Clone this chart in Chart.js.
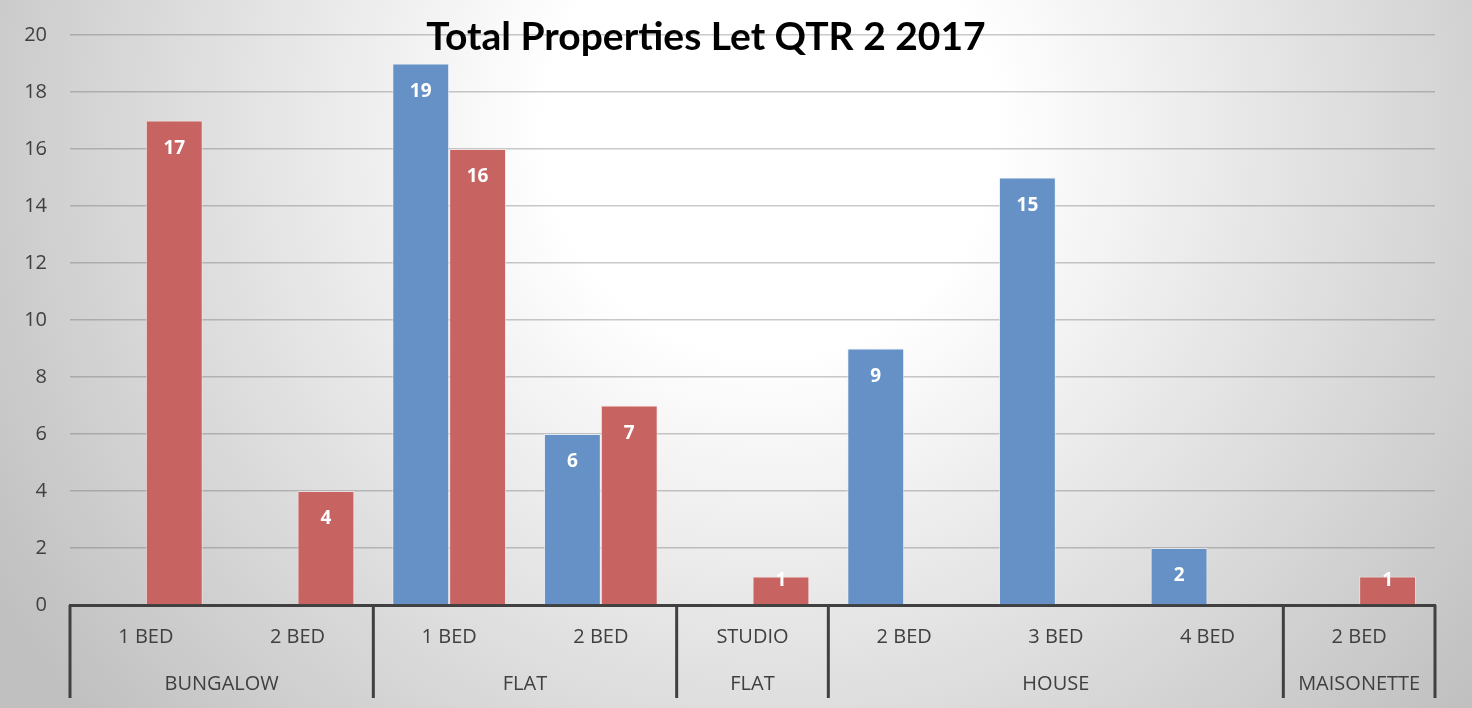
<!DOCTYPE html>
<html>
<head>
<meta charset="utf-8">
<script src="https://cdn.jsdelivr.net/npm/chart.js@4.4.0/dist/chart.umd.min.js"></script>
<style>
  html, body { margin: 0; padding: 0; background: #fff; }
</style>
</head>
<body>
<canvas id="lets-chart" width="1472" height="708"></canvas>
<script>
const categories = ["1 BED", "2 BED", "1 BED", "2 BED", "STUDIO", "2 BED", "3 BED", "4 BED", "2 BED"];
const groupNames = ["BUNGALOW", "FLAT", "FLAT", "HOUSE", "MAISONETTE"];
const groupSizes = [2, 2, 1, 3, 1];
const blueValues = [null, null, 19, 6, null, 9, 15, 2, null];
const redValues = [17, 4, 16, 7, 1, null, null, null, 1];
const yTicks = [0, 2, 4, 6, 8, 10, 12, 14, 16, 18, 20];
const chartTitle = "Total Properties Let QTR 2 2017";

const axisFont = "'Open Sans', sans-serif";

const backdrop = {
  id: "backdrop",
  beforeDraw: (chart) => {
    const ctx = chart.ctx;
    const g = ctx.createRadialGradient(770, 130, 0, 770, 130, 900);
    g.addColorStop(0, "#ffffff");
    g.addColorStop(0.25, "#ffffff");
    g.addColorStop(1, "#c0c0c0");
    ctx.save();
    ctx.fillStyle = g;
    ctx.fillRect(0, 0, chart.width, chart.height);
    ctx.restore();
  }
};

const extras = {
  id: "extras",
  afterDatasetsDraw: (chart) => {
    const ctx = chart.ctx;
    const y = chart.scales.y;
    const base = y.getPixelForValue(0);
    ctx.save();
    ctx.fillStyle = "#ffffff";
    ctx.font = "bold 19px " + axisFont;
    ctx.textAlign = "center";
    ctx.textBaseline = "middle";
    chart.data.datasets.forEach((ds, i) => {
      const meta = chart.getDatasetMeta(i);
      meta.data.forEach((bar, j) => {
        const v = ds.data[j];
        if (v == null) return;
        const ty = Math.min(bar.y + 28, base - 24);
        ctx.fillText(String(v), bar.x, ty);
      });
    });
    ctx.restore();
  },
  afterDraw: (chart) => {
    const ctx = chart.ctx;
    const x = chart.scales.x;
    const area = chart.chartArea;
    const half = (x.getPixelForValue(1) - x.getPixelForValue(0)) / 2;

    // group separators and labels
    ctx.save();
    ctx.strokeStyle = "#404040";
    ctx.lineWidth = 3;
    ctx.fillStyle = "#404040";
    ctx.font = "20px " + axisFont;
    ctx.textAlign = "center";
    ctx.textBaseline = "middle";
    let idx = 0;
    const edges = [x.getPixelForValue(0) - half];
    for (let g = 0; g < groupNames.length; g++) {
      const start = x.getPixelForValue(idx) - half;
      idx += groupSizes[g];
      const end = x.getPixelForValue(idx - 1) + half;
      edges.push(end);
      ctx.fillText(groupNames[g], (start + end) / 2, 684);
    }
    edges.forEach(px => {
      ctx.beginPath();
      ctx.moveTo(px, area.bottom);
      ctx.lineTo(px, 698);
      ctx.stroke();
    });

    // title
    ctx.fillStyle = "#000000";
    ctx.font = "bold 39px Lato, sans-serif";
    ctx.fillText(chartTitle, 706, 37);
    ctx.restore();
  }
};

new Chart("lets-chart", {
  type: "bar",
  data: {
    labels: categories,
    datasets: [
      {
        data: blueValues,
        backgroundColor: "rgb(101, 145, 198)",
        borderColor: "rgba(235, 240, 250, 0.7)",
        borderWidth: 1,
      },
      {
        data: redValues,
        backgroundColor: "rgb(199, 100, 98)",
        borderColor: "rgba(250, 230, 230, 0.7)",
        borderWidth: 1,
      },
    ],
  },
  options: {
    responsive: false,
    animation: false,
    layout: {
      padding: { left: 0, right: 37, top: 31, bottom: 0 }
    },
    datasets: {
      bar: { categoryPercentage: 0.75, barPercentage: 1.0 }
    },
    scales: {
      x: {
        grid: { display: false, drawTicks: false },
        border: { display: true, color: "#404040", width: 3 },
        ticks: {
          color: "#404040",
          font: { family: axisFont, size: 20 },
          padding: 20,
          maxRotation: 0,
          autoSkip: false,
        },
        afterFit: (scale) => { scale.height = 103; },
      },
      y: {
        min: 0,
        max: 20,
        afterBuildTicks: (scale) => { scale.ticks = yTicks.map(v => ({ value: v })); },
        grid: { color: "rgba(100, 100, 100, 0.35)", lineWidth: 1.5, drawTicks: false },
        border: { display: false },
        ticks: {
          color: "#404040",
          font: { family: axisFont, size: 20 },
          padding: 23,
        },
        afterFit: (scale) => { scale.width = 70; },
      },
    },
    plugins: {
      legend: { display: false },
      title: { display: false },
      tooltip: { enabled: false },
    },
  },
  plugins: [backdrop, extras],
});
</script>
</body>
</html>
